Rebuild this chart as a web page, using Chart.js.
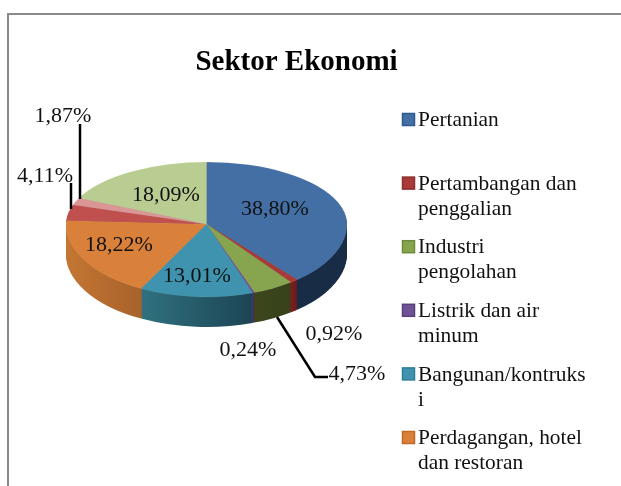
<!DOCTYPE html>
<html>
<head>
<meta charset="utf-8">
<script src="https://cdn.jsdelivr.net/npm/chart.js@4"></script>
<style>
    html, body { margin: 0; padding: 0; background: #fff; overflow: hidden; }
    #wrap { position: relative; width: 621px; height: 486px; filter: blur(0.4px); }
    #frame { position: absolute; left: 7px; top: 13px; right: -4px; bottom: -4px; border-left: 2px solid #8a8a8a; border-top: 2px solid #8a8a8a; }
    #sektor { position: absolute; left: 0; top: 0; }
</style>
</head>
<body>
<div id="wrap">
    <div id="frame"></div>
    <canvas id="sektor" width="621" height="486"></canvas>
</div>
<script>
// only the first six legend rows are visible in the picture, the rest is cut off
var categories = [
    ["Pertanian"],
    ["Pertambangan dan", "penggalian"],
    ["Industri", "pengolahan"],
    ["Listrik dan air", "minum"],
    ["Bangunan/kontruks", "i"],
    ["Perdagangan, hotel", "dan restoran"],
    [""], [""], [""]
];
var values = [38.80, 0.92, 4.73, 0.24, 13.01, 18.22, 4.11, 1.87, 18.09];
var colors = ['#446fa5', '#a83a38', '#87a44e', '#6f5295', '#3f93ae', '#d9813b', '#c0504d', '#d99694', '#b9cd93'];
var legendBorders = ['#2f5a8f', '#8c2f2d', '#6f8a3c', '#57407a', '#2f7f98', '#c06a28'];
var sideLeft = ['#1b3350', '#7a1f1f', '#3c471d', '#4a3566', '#30717f', '#c47633', '#8a3634', '#a06c6a', '#84935f'];
var sideRight = ['#182c46', '#6a1a1a', '#37411a', '#3c2a55', '#1c4454', '#a8622b', '#8a3634', '#a06c6a', '#84935f'];

// where the value labels sit, in slice order
var labelAt = [[275, 208], [334, 333], [357, 373], [248, 349], [197, 275], [119, 244], [45, 175], [63, 115], [166, 194]];
var leaders = [
    [[277, 317], [315, 377], [328, 377]],
    [[71, 209], [71, 183]],
    [[80, 199], [80, 124]]
];

var pie = { cx: 206.5, cy: 224, rx: 140.5, ryTop: 62, ryBottom: 73, depth: 30 };
var serif = '"Liberation Serif", "Times New Roman", serif';

function drawLayer(chart, arcs, dy) {
    var ctx = chart.ctx;
    var R = arcs[0].outerRadius;
    [[pie.ryTop, -pie.ryTop - 2], [pie.ryBottom, 0]].forEach(function(half) {
        ctx.save();
        ctx.beginPath();
        ctx.rect(0, pie.cy + dy + half[1], chart.width, half[0] + 2);
        ctx.clip();
        ctx.translate(pie.cx, pie.cy + dy);
        ctx.scale(pie.rx / R, half[0] / R);
        ctx.translate(-arcs[0].x, -arcs[0].y);
        arcs.forEach(function(arc) { arc.draw(ctx); });
        ctx.restore();
    });
}

var pie3d = {
    id: 'pie3d',
    beforeDatasetsDraw: function(chart) {
        var ctx = chart.ctx;
        var arcs = chart.getDatasetMeta(0).data;
        var own = arcs.map(function(a) { return a.options; });

        // side wall: the same slices stacked downwards in the dark colours
        arcs.forEach(function(arc, i) {
            var x0 = arc.x + arc.outerRadius * Math.min(Math.cos(arc.startAngle), Math.cos(arc.endAngle));
            var x1 = arc.x + arc.outerRadius * Math.max(Math.cos(arc.startAngle), Math.cos(arc.endAngle));
            var g = ctx.createLinearGradient(x0, 0, Math.max(x1, x0 + 1), 0);
            g.addColorStop(0, sideLeft[i]);
            g.addColorStop(1, sideRight[i]);
            arc.options = Object.assign({}, own[i], { backgroundColor: g, borderWidth: 0 });
        });
        for (var d = pie.depth; d > 0; d--) {
            drawLayer(chart, arcs, d);
        }

        arcs.forEach(function(arc, i) { arc.options = own[i]; });
        drawLayer(chart, arcs, 0);
        return false;
    },
    afterDraw: function(chart) {
        var ctx = chart.ctx;
        ctx.save();

        // leader lines
        ctx.strokeStyle = '#000';
        ctx.lineWidth = 2.5;
        leaders.forEach(function(line) {
            ctx.beginPath();
            line.forEach(function(p, i) {
                if (i == 0) ctx.moveTo(p[0], p[1]);
                else ctx.lineTo(p[0], p[1]);
            });
            ctx.stroke();
        });

        // value labels
        ctx.fillStyle = '#111';
        ctx.font = '22px ' + serif;
        ctx.textAlign = 'center';
        ctx.textBaseline = 'middle';
        values.forEach(function(v, i) {
            ctx.fillText(v.toFixed(2).replace('.', ',') + '%', labelAt[i][0], labelAt[i][1] + 1.5);
        });

        // legend, rows are two lines high even with one line of text
        ctx.font = '21.4px ' + serif;
        ctx.textAlign = 'left';
        categories.slice(0, 6).forEach(function(lines, i) {
            var y = 119.5 + i * 63.6;
            ctx.fillStyle = colors[i];
            ctx.strokeStyle = legendBorders[i];
            ctx.lineWidth = 1.5;
            ctx.fillRect(402.5, y - 6, 12, 12);
            ctx.strokeRect(402.5, y - 6, 12, 12);
            ctx.fillStyle = '#111';
            lines.forEach(function(t, n) {
                ctx.fillText(t, 418, y + 1 + n * 25);
            });
        });
        ctx.restore();
    }
};

new Chart(document.getElementById('sektor'), {
    type: 'pie',
    data: {
        labels: categories,
        datasets: [{
            data: values,
            backgroundColor: colors,
            borderColor: 'rgba(255,255,255,0.25)',
            borderWidth: 0.5
        }]
    },
    options: {
        responsive: false,
        animation: false,
        layout: { padding: { right: 28 } },
        plugins: {
            title: {
                display: true,
                text: 'Sektor Ekonomi',
                color: '#000',
                font: { family: serif, size: 29, weight: 'bold' },
                padding: { top: 45, bottom: 10 }
            },
            legend: { display: false },
            tooltip: { enabled: false }
        }
    },
    plugins: [pie3d]
});
</script>
</body>
</html>
